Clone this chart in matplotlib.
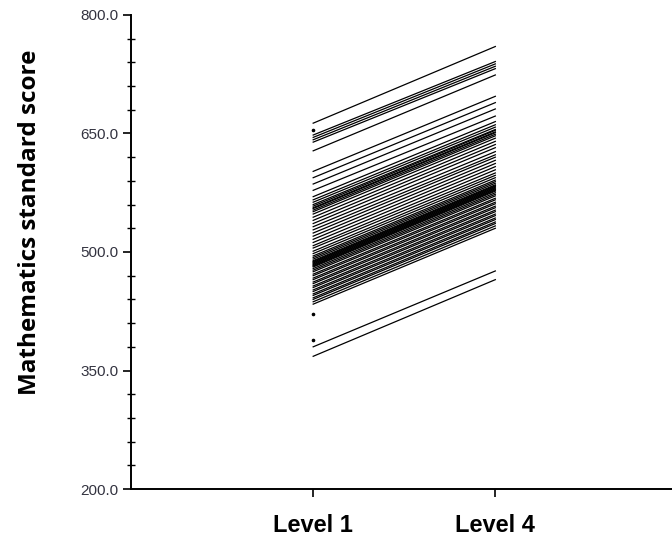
import matplotlib

matplotlib.use("Agg")
import matplotlib.pyplot as plt
from matplotlib.ticker import FixedLocator, FormatStrFormatter

# Each line: one student's standard score at Level 1 and at Level 4
level1 = [663, 648, 645, 642, 639, 628, 602, 594, 586, 578,
          570, 566, 563, 560, 558, 556, 555, 553, 551, 548,
          544, 540, 536, 532, 528, 524, 520, 516, 512, 508,
          505, 501, 498, 495, 493, 491, 489, 488, 487, 486,
          485, 484, 483, 482, 481, 479, 477, 475, 472, 470,
          467, 465, 462, 460, 457, 455, 452, 450, 447, 445,
          442, 440, 437, 434, 380, 368]
level4 = [760, 741, 738, 735, 732, 724, 697, 689, 681, 672,
          665, 661, 658, 655, 654, 652, 651, 649, 647, 644,
          640, 636, 632, 627, 623, 620, 616, 612, 608, 604,
          600, 597, 594, 591, 589, 587, 585, 584, 583, 582,
          581, 580, 579, 578, 577, 575, 573, 571, 568, 566,
          563, 561, 558, 556, 553, 551, 548, 546, 543, 541,
          538, 536, 533, 530, 476, 465]
# students measured at Level 1 only
single_level1 = [654, 421, 389]

level_names = ["Level 1", "Level 4"]
y_ticks = [200, 350, 500, 650, 800]
y_minor = list(range(200, 801, 30))

fig = plt.figure(figsize=(6.72, 5.52), dpi=100)
ax = fig.add_axes([0.195, 0.114, 0.805, 0.859])

for a, b in zip(level1, level4):
    ax.plot([1, 2], [a, b], color="black", linewidth=0.9)
ax.plot([1] * len(single_level1), single_level1, linestyle="none",
        marker="o", markersize=1.6, color="black")

ax.set_xlim(0, 2.97)
ax.set_ylim(200, 800)

ax.spines["top"].set_visible(False)
ax.spines["right"].set_visible(False)
ax.spines["left"].set_linewidth(1.4)
ax.spines["bottom"].set_linewidth(1.4)

ax.xaxis.set_major_locator(FixedLocator([1, 2]))
ax.set_xticklabels(level_names, fontfamily="Liberation Sans", fontweight="bold", fontsize=17)
ax.tick_params(axis="x", direction="out", length=6, width=1.2, pad=12)

ax.yaxis.set_major_locator(FixedLocator(y_ticks))
ax.yaxis.set_minor_locator(FixedLocator(y_minor))
ax.yaxis.set_major_formatter(FormatStrFormatter("%.1f"))
ax.tick_params(axis="y", which="major", direction="out", length=6, width=1.2,
               labelsize=11, labelcolor="#333340", pad=3)
ax.tick_params(axis="y", which="minor", direction="inout", length=6, width=1.0)
for lab in ax.get_yticklabels():
    lab.set_fontfamily("Liberation Sans")

fig.text(30 / 672, 1 - 222 / 552, "Mathematics standard score", rotation=90,
         ha="center", va="center", fontsize=17.5, fontweight="bold",
         fontfamily="Open Sans")

fig.savefig("out.png", dpi=100)
